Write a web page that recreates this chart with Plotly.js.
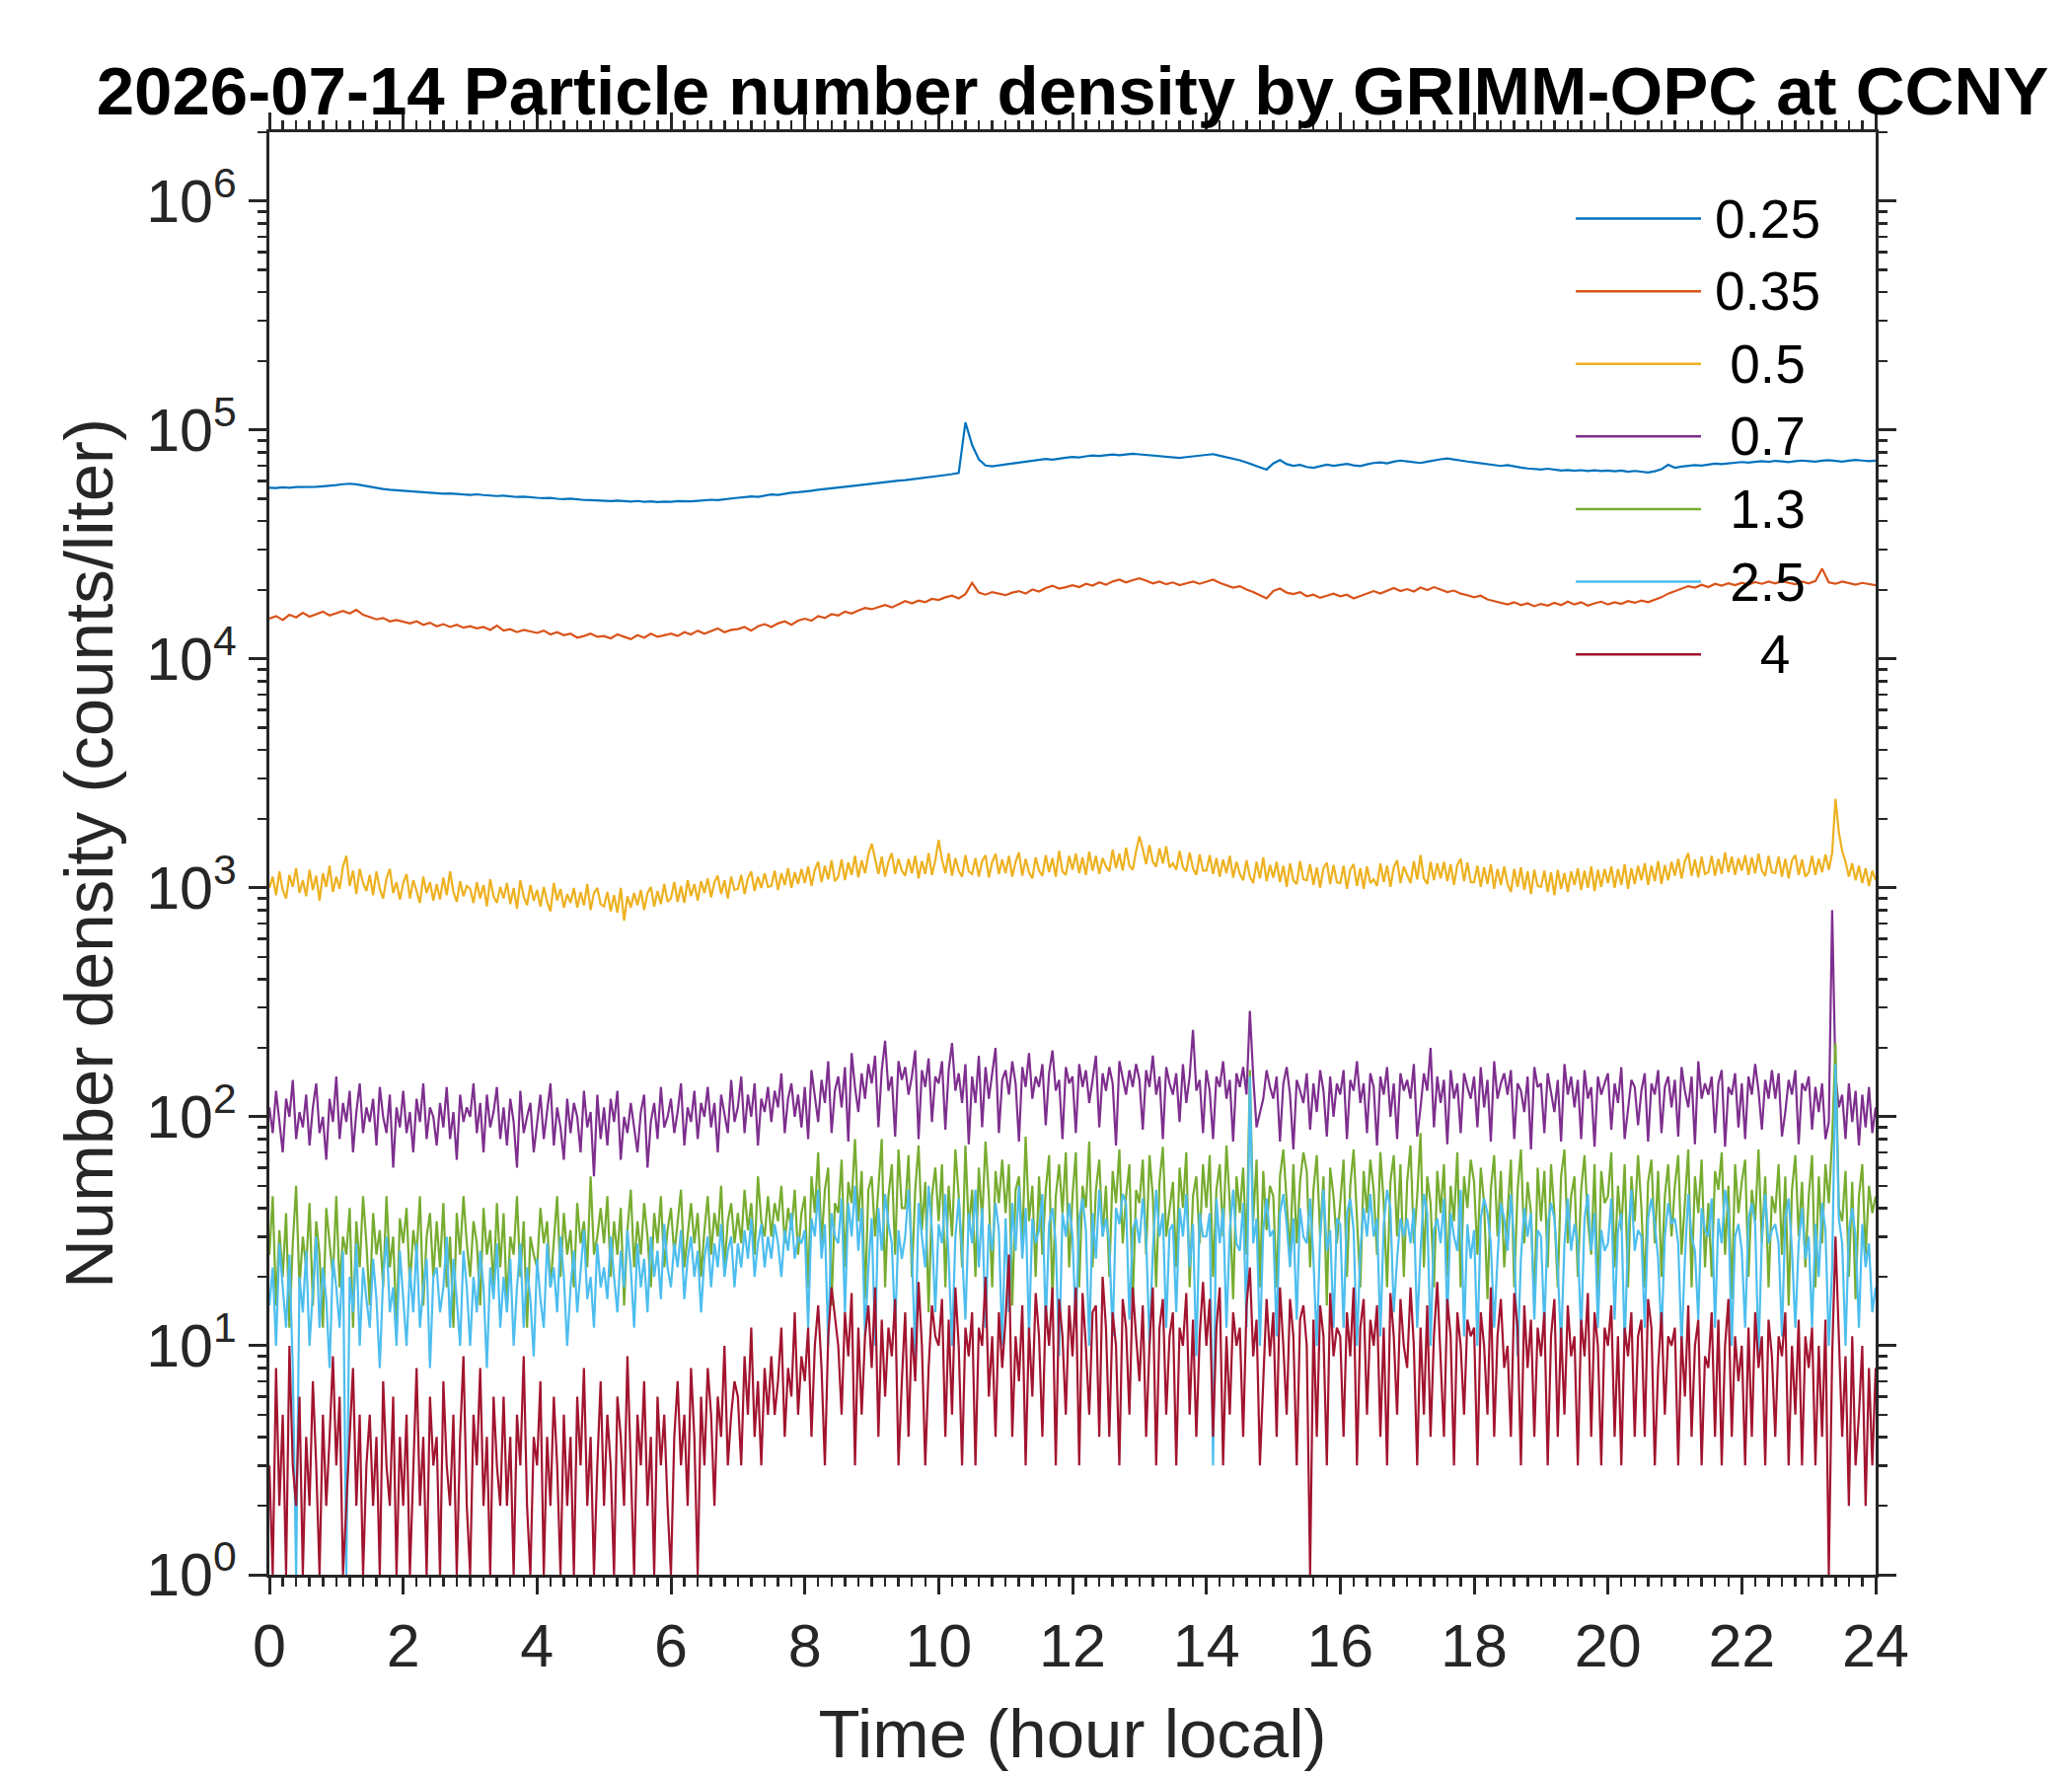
<!DOCTYPE html>
<html>
<head>
<meta charset="utf-8">
<script src="https://cdn.plot.ly/plotly-3.0.1.min.js"></script>
<style>
  html, body { margin: 0; padding: 0; background: #fff; }
  #chart { width: 2100px; height: 1800px; }
</style>
</head>
<body>
<div id="chart"></div>
<script>
// sampling steps (hours) used when reading the curves; first sample at 0 h
const DT_SMOOTH = 0.1;   // 0.25 and 0.35 um channels
const DT_NOISY = 0.05;   // 0.5 um and larger

const sizeNames = ["0.25", "0.35", "\u00a00.5", "\u00a00.7", "\u00a01.3", "\u00a02.5", "\u00a0\u00a0\u00a04"];
const lineColors = ["#0072BD", "#D95319", "#EDB120", "#7E2F8E", "#77AC30", "#4DBEEE", "#A2142F"];

const yTickVals = [1, 10, 100, 1000, 10000, 100000, 1000000];
const yTickText = ["10<sup>0</sup>", "10<sup>1</sup>", "10<sup>2</sup>", "10<sup>3</sup>",
  "10<sup>4</sup>", "10<sup>5</sup>", "10<sup>6</sup>"];

// counts/liter, one row per hour (10 samples), last value at 24 h
const n025 = [
  56000, 55800, 56200, 56000, 56400, 56300, 56600, 56500, 56800, 57000,
  57500, 58000, 58300, 57900, 57200, 56500, 55800, 55300, 54900, 54600,
  54200, 53800, 53500, 53400, 53100, 52900, 52700, 52900, 52500, 52300,
  52100, 52400, 52000, 51800, 51500, 51700, 51300, 51000, 51200, 50800,
  50600, 50400, 50500, 50100, 49900, 50200, 49700, 49500, 49400, 49300,
  49100, 48900, 49200, 48800, 48700, 49000, 48600, 48800, 48500, 48700,
  48600, 48900, 48700, 48800, 49100, 49300, 49600, 49400, 49900, 50300,
  50600, 50900, 51300, 51100, 51800, 52300, 52100, 52700, 53200, 53500,
  53800, 54300, 54900, 55200, 55600, 56100, 56500, 56900, 57400, 57800,
  58300, 58600, 59200, 59700, 60100, 60400, 61000, 61500, 61900, 62400,
  63000, 63600, 64200, 65000, 108000, 86000, 74500, 70000, 69500, 70200,
  70800, 71500, 72200, 72800, 73500, 74000, 74800, 74300, 75200, 75800,
  76300, 75900, 76800, 77500, 77100, 77800, 78200, 77600, 78400, 78800,
  78300, 77800, 77200, 76800, 76400, 76000, 75500, 76200, 76800, 77400,
  77900, 78500, 77200, 76100, 74500, 73800, 72200, 70500, 68500, 67200,
  71500, 74000, 71000, 69800, 70500, 69000, 68400, 69500, 70600, 69800,
  70400, 71200, 70100, 69600, 70800, 71800, 72200, 71500, 72800, 73600,
  73000, 72500, 71800, 72800, 73900, 74500, 75100, 74200, 73600, 72900,
  72300, 71600, 70900, 70200, 69700, 70300, 69200, 68600, 68000, 67600,
  67200, 67800, 67000, 66600, 66900, 66400, 66800, 66200, 66700, 66300,
  66600, 66100, 66500, 65800, 66300, 65700, 65300, 66100, 67500, 70500,
  68500, 69300, 69800, 70300, 70000, 70800, 71300, 71000, 71600, 72100,
  72500, 72100, 72800, 73200, 72600, 73400, 73000, 72500, 73100, 73600,
  73200, 72800, 73500, 73900, 73300, 72800, 73500, 74000, 73600, 73200,
  73500
];

const n035 = [
  15000, 15400, 14800, 15600, 15200, 15900, 15300, 15700, 16100, 15500,
  15900, 16200, 15800, 16400, 15600, 15200, 14900, 15100, 14600, 14800,
  14500, 14300, 14600, 14100, 14400, 13900, 14200, 13800, 14100, 13700,
  13900, 13600, 13800, 13400, 14000, 13300, 13500, 13100, 13400, 13200,
  13000, 13300, 12800, 13100, 12700, 12900, 12400, 12600, 12900, 12500,
  12600, 12300, 12800, 12500, 12200, 12700, 12400, 12900, 12500, 12700,
  12900, 12600, 13100, 12800, 13300, 12900, 13200, 13600, 13100, 13400,
  13500, 13800, 13300, 13900, 14200, 13800, 14300, 14600, 14100, 14700,
  15000, 14700, 15400, 15100, 15700, 15500, 16100, 15800, 16300, 16700,
  16500, 16900, 17200, 16800, 17400, 17900, 17500, 18000, 17700, 18300,
  18100, 18600, 18900, 18400, 19200, 21500, 19500, 19100, 19600, 19300,
  19000, 19500, 19800, 19300, 20100, 19700, 20400, 20900, 20300, 20600,
  21000, 20600, 21300, 20900, 21600, 21100, 21800, 22200, 21600, 22100,
  22500, 22000, 21400, 21800, 21200, 21600, 21000, 21400, 21800, 21300,
  21700, 22200, 21500, 21000, 20500, 20800, 20100, 19600, 19000, 18400,
  19800, 20300, 19500, 19200, 19600, 18800, 19100, 18500, 18900, 19300,
  18800, 19100, 18400, 18900, 19400, 19800, 19300, 19900, 20400, 19800,
  20200, 19700, 20500, 20000, 20600, 20100, 19600, 19900, 19300, 19000,
  18600, 18900, 18200, 17900, 17600, 17300, 17700, 17200, 17500, 17000,
  17400, 17100, 17600, 17200, 17800, 17300, 17700, 17100, 17500, 17800,
  17300, 17700, 17400, 17900, 17600, 18000, 17700, 18100, 18600, 19300,
  19800, 20300, 20800, 20500, 21100, 20600, 21300, 20900, 21400, 21000,
  21500, 21100, 21700, 21300, 21800, 21400, 21900, 21500, 21200, 21800,
  21400, 21900, 24800, 21600, 21300, 21800, 21400, 21100, 21500, 21200,
  21000
];

// counts/liter, one row per half hour (10 samples), last value at 24 h
const n05 = [
  1000, 1120, 930, 1180, 980, 900, 1140, 1010, 1220, 950,
  1080, 920, 1200, 980, 1130, 880, 1160, 1010, 1250, 960,
  1120, 990, 1240, 1380, 1020, 1190, 940, 1210, 1050, 970,
  1140, 930, 1180, 990, 900, 1100, 1210, 950, 1060, 890,
  1050, 1150, 900, 1080, 970, 860, 1120, 950, 1060, 880,
  1040, 890, 1110, 930, 1180, 960, 870, 1070, 920, 1020,
  990, 860, 1060, 900, 1030, 830, 1090, 920, 860, 1010,
  900, 1050, 850, 1000, 810, 1080, 920, 840, 1030, 880,
  980, 830, 1010, 870, 790, 1050, 880, 990, 820, 940,
  860, 1000, 820, 960, 840, 1040, 800, 950, 1000, 850,
  830, 960, 790, 930, 780, 1000, 720, 920, 820, 950,
  840, 980, 800, 950, 1010, 830, 970, 850, 1040, 870,
  900, 1060, 870, 1020, 860, 1080, 920, 1040, 880, 1070,
  950, 1100, 910, 1060, 1130, 940, 1080, 900, 1120, 980,
  990, 1140, 940, 1100, 1180, 970, 1120, 1000, 1160, 1010,
  1020, 1190, 980, 1160, 1030, 1220, 1000, 1170, 1040, 1210,
  1050, 1240, 1020, 1200, 1300, 1060, 1250, 1090, 1320, 1070,
  1120, 1330, 1080, 1290, 1140, 1380, 1110, 1320, 1160, 1400,
  1560, 1320, 1150, 1370, 1120, 1300, 1420, 1150, 1340, 1190,
  1130, 1340, 1160, 1380, 1100, 1310, 1150, 1420, 1140, 1320,
  1620, 1330, 1160, 1420, 1130, 1350, 1190, 1120, 1390, 1180,
  1150, 1350, 1120, 1310, 1390, 1110, 1300, 1410, 1150, 1330,
  1160, 1380, 1120, 1300, 1430, 1130, 1340, 1170, 1100, 1360,
  1190, 1130, 1390, 1170, 1350, 1120, 1450, 1180, 1140, 1380,
  1200, 1410, 1160, 1360, 1140, 1440, 1190, 1380, 1150, 1350,
  1240, 1180, 1470, 1220, 1410, 1190, 1500, 1250, 1200, 1450,
  1680, 1480, 1270, 1540, 1300, 1240, 1490, 1280, 1520, 1230,
  1280, 1200, 1450, 1230, 1180, 1430, 1220, 1140, 1400, 1190,
  1190, 1390, 1150, 1350, 1120, 1330, 1160, 1380, 1110, 1300,
  1150, 1080, 1320, 1120, 1050, 1300, 1100, 1360, 1070, 1260,
  1110, 1300, 1060, 1250, 1010, 1280, 1080, 1040, 1310, 1090,
  1080, 1270, 1030, 1230, 1000, 1220, 1290, 1040, 1260, 1060,
  1050, 1250, 990, 1200, 1270, 1020, 1220, 990, 1240, 1050,
  1090, 1020, 1280, 1060, 1250, 1010, 1230, 1320, 1050, 1240,
  1130, 1050, 1310, 1090, 1390, 1100, 1040, 1300, 1080, 1280,
  1100, 1300, 1070, 1270, 1030, 1260, 1340, 1070, 1290, 1060,
  1060, 1250, 1010, 1230, 1040, 1270, 990, 1210, 1030, 1240,
  1040, 960, 1210, 1010, 1230, 980, 1180, 940, 1200, 1020,
  1010, 1190, 960, 1170, 930, 1200, 990, 1160, 960, 1180,
  1030, 1220, 980, 1190, 1000, 1240, 970, 1200, 1010, 1210,
  1050, 1240, 1000, 1210, 1030, 1270, 990, 1220, 1040, 1250,
  1080, 1280, 1030, 1250, 1070, 1310, 1040, 1260, 1080, 1300,
  1130, 1340, 1100, 1310, 1420, 1130, 1330, 1110, 1370, 1150,
  1170, 1380, 1130, 1340, 1150, 1430, 1170, 1370, 1140, 1350,
  1190, 1390, 1140, 1360, 1160, 1410, 1190, 1130, 1380, 1170,
  1160, 1370, 1120, 1340, 1100, 1320, 1390, 1140, 1330, 1120,
  1170, 1380, 1140, 1340, 1170, 1400, 1200, 1420, 2450, 1750,
  1450, 1300, 1120, 1280, 1080, 1250, 1050, 1220, 1020, 1190,
  1080
];

const n07 = [
  110, 85, 130, 95, 70, 120, 100, 145, 80, 105,
  90, 125, 75, 110, 140, 85, 100, 65, 120, 95,
  150, 80, 115, 95, 130, 70, 105, 140, 85, 110,
  95, 120, 75, 135, 100, 85, 125, 60, 110, 90,
  130, 85, 105, 70, 120, 95, 140, 80, 110, 100,
  75, 115, 90, 135, 80, 105, 65, 125, 95, 110,
  100, 140, 85, 115, 70, 125, 90, 105, 135, 80,
  110, 75, 120, 95, 60, 130, 85, 100, 115, 70,
  95, 125, 80, 105, 140, 75, 110, 90, 65, 120,
  85, 115, 100, 70, 130, 90, 105, 55, 125, 80,
  110, 75, 120, 95, 130, 65, 100, 85, 115, 90,
  70, 105, 125, 60, 95, 115, 80, 135, 90, 100,
  120, 85, 105, 140, 75, 110, 95, 130, 80, 115,
  100, 135, 90, 115, 70, 125, 105, 85, 145, 95,
  110, 150, 85, 125, 100, 140, 75, 120, 105, 135,
  95, 130, 110, 155, 85, 120, 140, 100, 125, 90,
  135, 80, 160, 120, 95, 145, 115, 175, 85, 130,
  150, 110, 165, 78, 190, 135, 105, 155, 120, 170,
  140, 185, 90, 160, 215, 130, 150, 82, 175, 145,
  165, 125, 150, 195, 80, 160, 135, 180, 95, 150,
  140, 175, 88, 160, 210, 130, 155, 115, 170, 76,
  150, 115, 185, 90, 165, 120, 155, 200, 85, 145,
  160, 125, 175, 140, 78, 165, 135, 190, 120, 150,
  135, 170, 92, 155, 195, 130, 145, 80, 165, 140,
  150, 85, 170, 135, 160, 115, 145, 185, 90, 155,
  130, 165, 140, 75, 175, 145, 125, 160, 135, 170,
  145, 88, 160, 135, 185, 125, 150, 80, 165, 140,
  125, 155, 95, 170, 115, 150, 240, 130, 145, 85,
  160, 130, 80, 150, 135, 175, 120, 145, 78, 155,
  135, 165, 125, 290, 150, 90, 105, 120, 160, 135,
  120, 150, 78, 140, 165, 125, 72, 145, 130, 115,
  155, 88, 140, 105, 160, 130, 82, 150, 100, 140,
  125, 160, 80, 145, 130, 175, 115, 140, 85, 155,
  135, 75, 150, 125, 165, 100, 140, 80, 155, 130,
  145, 120, 170, 82, 110, 155, 130, 200, 90, 150,
  115, 145, 76, 160, 120, 140, 85, 155, 135, 120,
  150, 90, 165, 110, 145, 78, 175, 120, 140, 155,
  125, 160, 80, 140, 130, 105, 150, 72, 165, 135,
  140, 85, 155, 130, 105, 145, 78, 170, 125, 150,
  110, 145, 80, 160, 120, 135, 74, 150, 125, 140,
  155, 88, 140, 115, 165, 80, 110, 145, 135, 92,
  130, 155, 78, 140, 125, 160, 85, 135, 150, 110,
  145, 82, 165, 130, 110, 150, 76, 175, 120, 140,
  125, 150, 85, 140, 160, 74, 135, 125, 155, 90,
  140, 80, 150, 125, 170, 130, 88, 145, 120, 160,
  120, 155, 82, 105, 145, 125, 160, 76, 140, 130,
  150, 88, 135, 105, 140, 80, 95, 800, 150, 110,
  125, 80, 140, 95, 130, 75, 125, 90, 135, 85,
  110
];

const n13 = [
  25, 45, 15, 32, 20, 38, 12, 28, 50, 18,
  30, 22, 42, 15, 35, 25, 12, 40, 28, 20,
  45, 18, 30, 25, 40, 12, 35, 22, 45, 28,
  15, 38, 25, 32, 18, 45, 22, 30, 12, 36,
  28, 40, 18, 32, 25, 45, 15, 30, 38, 20,
  35, 22, 42, 18, 30, 12, 38, 25, 45, 28,
  20, 35, 28, 15, 40, 25, 32, 18, 42, 22,
  38, 15, 30, 25, 45, 20, 35, 12, 30, 25,
  22, 40, 28, 35, 18, 30, 45, 20, 38, 25,
  32, 18, 42, 28, 35, 22, 55, 25, 30, 40,
  28, 45, 20, 35, 25, 40, 15, 32, 48, 22,
  35, 25, 42, 30, 18, 38, 28, 45, 22, 32,
  40, 25, 35, 48, 22, 30, 42, 28, 38, 20,
  32, 45, 25, 38, 30, 50, 22, 35, 42, 28,
  38, 28, 48, 32, 42, 25, 55, 35, 30, 45,
  30, 42, 35, 50, 28, 40, 32, 48, 25, 38,
  45, 18, 55, 38, 70, 28, 48, 60, 15, 42,
  38, 65, 22, 52, 42, 80, 35, 58, 16, 48,
  55, 30, 48, 80, 18, 45, 62, 25, 72, 40,
  40, 68, 20, 48, 75, 32, 52, 14, 45, 60,
  35, 62, 18, 50, 30, 72, 45, 22, 75, 32,
  48, 20, 60, 35, 78, 45, 18, 58, 42, 65,
  38, 62, 15, 48, 55, 28, 82, 35, 50, 20,
  55, 25, 48, 68, 16, 45, 62, 38, 70, 22,
  45, 70, 18, 50, 40, 78, 22, 48, 65, 30,
  50, 20, 58, 42, 72, 28, 45, 62, 15, 48,
  42, 65, 25, 68, 45, 18, 52, 74, 30, 40,
  52, 22, 60, 40, 70, 18, 45, 55, 28, 62,
  40, 68, 20, 48, 62, 30, 75, 42, 16, 55,
  38, 60, 25, 160, 35, 65, 18, 58, 32, 50,
  45, 18, 55, 72, 40, 25, 62, 28, 52, 70,
  58, 22, 48, 68, 30, 55, 15, 60, 45, 28,
  42, 65, 20, 50, 72, 35, 18, 58, 38, 65,
  48, 25, 70, 42, 18, 52, 68, 30, 62, 20,
  52, 75, 28, 45, 85, 22, 55, 42, 18, 58,
  38, 62, 20, 50, 35, 70, 18, 55, 40, 65,
  52, 25, 60, 42, 16, 48, 68, 30, 58, 22,
  40, 65, 18, 48, 72, 28, 52, 38, 15, 60,
  35, 58, 22, 62, 38, 18, 55, 72, 28, 45,
  55, 20, 48, 68, 35, 25, 62, 16, 58, 42,
  45, 70, 22, 50, 32, 62, 18, 55, 35, 68,
  40, 18, 52, 65, 28, 58, 20, 45, 62, 30,
  50, 68, 25, 42, 72, 18, 55, 38, 65, 22,
  42, 20, 58, 48, 70, 25, 50, 16, 62, 38,
  52, 65, 20, 48, 35, 72, 28, 55, 18, 45,
  38, 62, 25, 55, 15, 48, 68, 30, 52, 22,
  45, 68, 18, 55, 28, 62, 42, 80, 210, 40,
  35, 58, 20, 52, 16, 45, 62, 25, 50, 38,
  45
];

const n25 = [
  15, 22, 10, 28, 18, 12, 25, 8, 1, 20,
  14, 26, 10, 18, 30, 12, 22, 16, 8, 24,
  18, 12, 26, 1, 20, 14, 28, 10, 22, 16,
  12, 24, 16, 8, 20, 30, 14, 18, 10, 26,
  16, 10, 22, 14, 28, 12, 18, 24, 8, 20,
  22, 14, 18, 30, 12, 24, 16, 10, 26, 18,
  10, 20, 14, 26, 18, 8, 22, 16, 28, 12,
  20, 14, 24, 10, 18, 28, 12, 22, 16, 9,
  24, 16, 12, 28, 18, 22, 14, 30, 20, 10,
  18, 26, 14, 22, 32, 16, 20, 12, 28, 18,
  22, 16, 30, 20, 14, 26, 18, 32, 22, 12,
  28, 18, 24, 14, 30, 20, 26, 16, 34, 22,
  18, 28, 22, 32, 16, 24, 30, 20, 26, 14,
  24, 30, 18, 28, 22, 34, 20, 26, 30, 18,
  28, 22, 32, 24, 36, 20, 28, 34, 22, 30,
  24, 34, 28, 20, 32, 26, 38, 24, 30, 28,
  32, 12, 36, 30, 48, 24, 34, 10, 38, 30,
  28, 44, 14, 42, 30, 50, 26, 40, 11, 22,
  36, 10, 40, 26, 46, 34, 28, 12, 32, 24,
  30, 48, 26, 9, 42, 30, 22, 50, 32, 14,
  34, 28, 46, 24, 10, 30, 44, 26, 13, 38,
  28, 48, 22, 40, 12, 34, 26, 42, 32, 10,
  36, 14, 42, 26, 50, 24, 40, 11, 36, 28,
  32, 46, 12, 34, 40, 28, 9, 38, 30, 42,
  30, 12, 36, 44, 32, 10, 38, 24, 48, 30,
  36, 28, 11, 40, 34, 46, 42, 13, 32, 36,
  28, 44, 30, 10, 26, 48, 30, 38, 12, 32,
  34, 14, 40, 30, 46, 22, 34, 9, 38, 30,
  30, 38, 3, 44, 28, 40, 12, 32, 48, 28,
  26, 42, 12, 150, 28, 36, 10, 32, 44, 30,
  32, 11, 38, 46, 34, 22, 36, 13, 40, 30,
  28, 44, 24, 10, 30, 48, 26, 32, 12, 36,
  34, 12, 38, 44, 32, 10, 26, 40, 30, 46,
  30, 36, 11, 34, 48, 40, 14, 24, 36, 30,
  36, 28, 40, 12, 26, 46, 38, 10, 32, 36,
  28, 44, 13, 38, 30, 26, 48, 11, 34, 24,
  32, 10, 36, 44, 38, 28, 12, 24, 42, 36,
  26, 46, 28, 9, 24, 40, 30, 38, 13, 32,
  30, 12, 34, 42, 36, 22, 10, 28, 44, 26,
  34, 28, 11, 36, 46, 26, 38, 12, 32, 26,
  28, 44, 13, 32, 38, 10, 30, 48, 26, 32,
  30, 12, 36, 44, 34, 24, 11, 30, 42, 34,
  36, 28, 10, 24, 46, 30, 26, 13, 40, 32,
  30, 44, 12, 36, 28, 48, 38, 10, 30, 34,
  26, 12, 36, 42, 34, 9, 30, 46, 28, 32,
  34, 28, 11, 36, 44, 26, 12, 28, 40, 24,
  30, 12, 34, 20, 42, 32, 10, 22, 170, 36,
  28, 10, 32, 40, 30, 12, 34, 22, 28, 14,
  18
];

const n4 = [
  3, 1, 8, 2, 5, 1, 10, 3, 2, 6,
  1, 4, 2, 7, 3, 1, 5, 2, 4, 9,
  3, 6, 1, 2, 4, 8, 2, 5, 1, 3,
  5, 2, 4, 1, 7, 3, 2, 6, 1, 4,
  2, 5, 1, 3, 8, 2, 4, 1, 6, 3,
  4, 1, 7, 3, 2, 5, 1, 4, 9, 2,
  1, 5, 3, 8, 2, 4, 1, 6, 3, 2,
  6, 2, 4, 1, 5, 3, 9, 2, 1, 4,
  3, 7, 1, 4, 2, 6, 3, 1, 5, 2,
  4, 1, 6, 3, 8, 2, 4, 1, 3, 7,
  2, 5, 3, 1, 6, 4, 2, 9, 3, 1,
  5, 3, 7, 2, 4, 1, 6, 3, 5, 2,
  1, 4, 7, 3, 5, 2, 8, 4, 1, 6,
  3, 8, 5, 2, 6, 4, 10, 3, 5, 7,
  6, 3, 9, 5, 12, 4, 7, 3, 8, 5,
  9, 5, 7, 12, 4, 8, 6, 14, 5, 9,
  7, 12, 4, 10, 15, 8, 3, 11, 18, 13,
  10, 5, 14, 9, 17, 3, 12, 5, 11, 15,
  8, 18, 4, 13, 6, 12, 9, 16, 3, 7,
  14, 4, 12, 7, 19, 10, 3, 8, 15, 11,
  10, 16, 4, 13, 5, 18, 10, 3, 12, 9,
  14, 3, 12, 10, 20, 6, 11, 4, 14, 8,
  13, 25, 4, 11, 7, 15, 3, 12, 6, 17,
  11, 4, 15, 10, 18, 3, 16, 11, 5, 15,
  9, 18, 3, 17, 10, 5, 14, 15, 4, 20,
  12, 4, 14, 10, 3, 16, 12, 5, 18, 11,
  7, 15, 4, 10, 18, 3, 12, 16, 5, 11,
  14, 3, 12, 10, 17, 5, 13, 4, 11, 19,
  10, 16, 4, 12, 18, 3, 11, 5, 14, 10,
  12, 4, 15, 22, 9, 13, 3, 7, 16, 9,
  14, 4, 18, 10, 5, 16, 11, 3, 13, 15,
  10, 1, 13, 4, 15, 11, 3, 17, 9, 12,
  11, 4, 14, 9, 18, 3, 12, 16, 5, 13,
  10, 15, 4, 12, 3, 17, 11, 5, 16, 10,
  8, 18, 10, 3, 12, 5, 15, 4, 11, 19,
  9, 4, 16, 11, 3, 14, 10, 5, 13, 11,
  12, 3, 14, 10, 5, 18, 4, 11, 16, 8,
  10, 4, 17, 12, 3, 15, 8, 13, 4, 12,
  9, 14, 3, 11, 16, 4, 12, 5, 15, 9,
  11, 3, 13, 9, 17, 4, 14, 10, 3, 12,
  10, 15, 4, 11, 3, 12, 9, 14, 4, 11,
  13, 4, 16, 12, 3, 8, 14, 5, 11, 10,
  12, 3, 11, 6, 15, 4, 10, 13, 3, 9,
  8, 14, 4, 13, 3, 10, 16, 4, 11, 7,
  10, 3, 12, 4, 14, 8, 11, 3, 13, 9,
  4, 11, 9, 14, 3, 10, 5, 13, 3, 11,
  8, 12, 3, 10, 4, 13, 1, 9, 30, 11,
  4, 9, 2, 11, 3, 5, 10, 2, 8, 3,
  8
];

const allSeries = [n025, n035, n05, n07, n13, n25, n4];
const hoursOf = (vals, dt) => vals.map((_, i) => +(i * dt).toFixed(3));

const axisColor = "#262626";
const fontFamily = "Liberation Sans, Arial, sans-serif";

const traces = allSeries.map((vals, k) => ({
  x: hoursOf(vals, k < 2 ? DT_SMOOTH : DT_NOISY),
  y: vals,
  type: "scatter",
  mode: "lines",
  name: sizeNames[k],
  line: { color: lineColors[k], width: 2.2 },
  showlegend: false,
}));

// legend drawn by hand so the sample lines are as long as in the original
const shapes = [];
const annotations = [];
const legTop = 0.9401, legStep = 0.05034;
sizeNames.forEach((nm, k) => {
  const yy = legTop - k * legStep;
  shapes.push({
    type: "line", xref: "paper", yref: "paper",
    x0: 0.8133, x1: 0.8913, y0: yy, y1: yy,
    line: { color: lineColors[k], width: 2.5 },
  });
  annotations.push({
    xref: "paper", yref: "paper", x: 0.8986, y: yy,
    xanchor: "left", yanchor: "middle", showarrow: false,
    text: nm, font: { family: fontFamily, size: 55, color: "#000" },
  });
});

const layout = {
  width: 2100,
  height: 1800,
  paper_bgcolor: "#fff",
  plot_bgcolor: "#fff",
  margin: { l: 273, r: 199, t: 134, b: 204 },
  font: { family: fontFamily, color: axisColor },
  showlegend: false,
  title: {
    text: "2026-07-14 Particle number density by GRIMM-OPC at CCNY",
    font: { family: fontFamily, size: 69, color: "#000", weight: "bold" },
    xref: "paper", x: 0.5, xanchor: "center",
    yref: "container", y: 0.949, yanchor: "middle",
  },
  xaxis: {
    range: [0, 24],
    tick0: 0, dtick: 2,
    ticks: "outside", ticklen: 17, tickwidth: 3, tickcolor: axisColor,
    minor: { dtick: 0.2, ticks: "outside", ticklen: 9, tickwidth: 2.5, tickcolor: axisColor, showgrid: false },
    showline: true, linewidth: 3, linecolor: axisColor, mirror: "allticks",
    showgrid: false, zeroline: false,
    tickfont: { family: fontFamily, size: 61, color: axisColor },
    title: { text: "Time (hour local)", font: { family: fontFamily, size: 69, color: axisColor }, standoff: 32 },
    automargin: false,
  },
  yaxis: {
    type: "log",
    range: [0, 6.301],
    tickmode: "array", tickvals: yTickVals, ticktext: yTickText,
    ticks: "outside", ticklen: 18, tickwidth: 3, tickcolor: axisColor,
    minor: { dtick: "D1", ticks: "outside", ticklen: 9, tickwidth: 2.5, tickcolor: axisColor, showgrid: false },
    showline: true, linewidth: 3, linecolor: axisColor, mirror: "allticks",
    showgrid: false, zeroline: false,
    tickfont: { family: fontFamily, size: 61, color: axisColor },
    title: { text: "Number density (counts/liter)", font: { family: fontFamily, size: 69, color: axisColor }, standoff: 12 },
    automargin: false,
  },
  shapes: shapes,
  annotations: annotations,
};

Plotly.newPlot("chart", traces, layout, { staticPlot: true, displayModeBar: false });
</script>
</body>
</html>
